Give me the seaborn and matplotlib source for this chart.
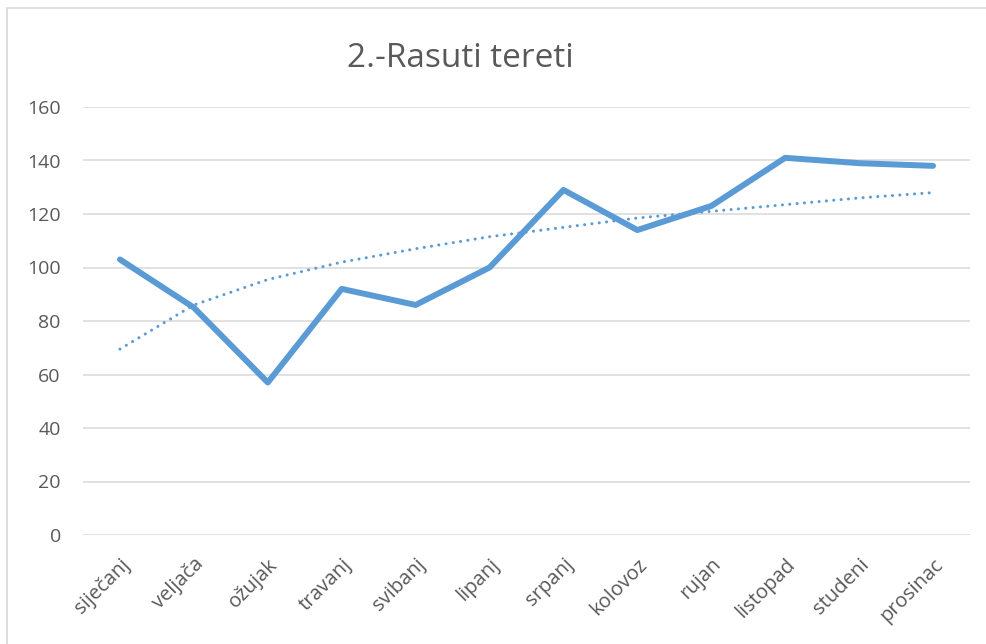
import numpy as np
import pandas as pd
import matplotlib
matplotlib.use("Agg")
import matplotlib.pyplot as plt
import matplotlib.transforms as mtransforms
from matplotlib.patches import Rectangle
import seaborn as sns

MONTHS = ["siječanj", "veljača", "ožujak", "travanj", "svibanj", "lipanj",
          "srpanj", "kolovoz", "rujan", "listopad", "studeni", "prosinac"]
TONNAGE = [103, 85, 57, 92, 86, 100, 129, 114, 123, 141, 139, 138]
# logarithmic trendline
TREND = [69.5, 86, 95.5, 102, 107, 111.5, 115, 118.5, 121, 123.5, 126, 128]
Y_TICKS = [0, 20, 40, 60, 80, 100, 120, 140, 160]

TITLE = "2.-Rasuti tereti"
BLUE = "#5B9BD5"
GREY_TEXT = "#595959"
GRID = "#D9D9D9"

df = pd.DataFrame({"month": MONTHS, "value": TONNAGE, "trend": TREND})

sns.set_theme(style="white")
plt.rcParams["font.family"] = ["Open Sans", "DejaVu Sans"]

fig = plt.figure(figsize=(9.87, 6.44), dpi=100)
ax = fig.add_axes([83 / 987, 1 - 535 / 644, (970 - 83) / 987, (535 - 107) / 644])

sns.lineplot(data=df, x="month", y="trend", ax=ax, color=BLUE, linewidth=2.2,
             dashes=False, sort=False)
trend_line = ax.lines[-1]
trend_line.set_dashes([0.01, 2.4])
trend_line.set_dash_capstyle("round")

sns.lineplot(data=df, x="month", y="value", ax=ax, color=BLUE, linewidth=4.3,
             sort=False)
main_line = ax.lines[-1]
main_line.set_solid_capstyle("round")
main_line.set_solid_joinstyle("round")

ax.set_xlim(-0.5, len(MONTHS) - 0.5)
ax.set_ylim(0, 160)
ax.set_yticks(Y_TICKS)
ax.set_xlabel("")
ax.set_ylabel("")
ax.yaxis.grid(True, color=GRID, linewidth=1.1)
ax.set_axisbelow(True)
for s in ax.spines.values():
    s.set_visible(False)

ax.tick_params(axis="y", length=0, pad=16, labelsize=14, labelcolor=GREY_TEXT)
ax.tick_params(axis="x", length=0, pad=14, labelsize=14.5, labelcolor=GREY_TEXT)
for lab in ax.get_xticklabels():
    lab.set_rotation(45)
    lab.set_ha("right")
    lab.set_va("top")
    lab.set_rotation_mode("anchor")

fig.text(460 / 987, 1 - 67 / 644, TITLE, ha="center", va="baseline",
         fontsize=24, color=GREY_TEXT)

fig.add_artist(Rectangle((7 / 987, -0.1), 1.2, 1 - 8 / 644 + 0.1,
                         transform=fig.transFigure, fill=False,
                         edgecolor=GRID, linewidth=1.2))

fig.savefig("out.png", dpi=100)
